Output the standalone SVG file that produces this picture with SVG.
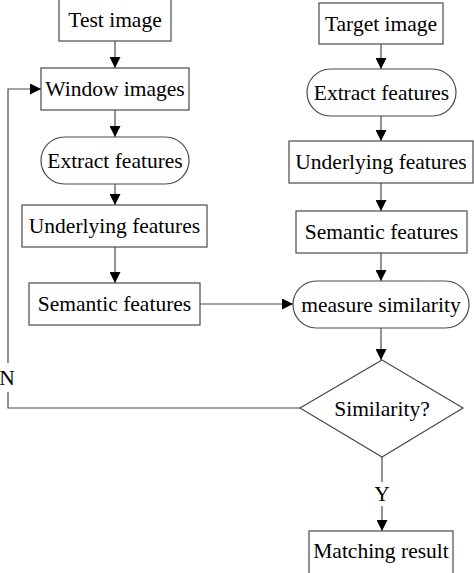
<svg xmlns="http://www.w3.org/2000/svg" width="474" height="573" viewBox="0 0 474 573">
<style>
.box{fill:#fff;stroke:#4a4a4a;stroke-width:1.2}
.lbl{font-family:"Liberation Serif","Times New Roman",serif;font-size:21.5px;fill:#000;text-anchor:middle}
.ln{fill:none;stroke:#4a4a4a;stroke-width:1.2}
</style>
<defs>
<marker id="ah" markerUnits="userSpaceOnUse" markerWidth="11" markerHeight="11" refX="11" refY="5.5" orient="auto">
<path d="M0,0 L11,5.5 L0,11 z" fill="#000"/>
</marker>
</defs>
<rect width="474" height="573" fill="#fff"/>
<g id="connectors">
<line class="ln" x1="115" y1="41" x2="115" y2="68" marker-end="url(#ah)"/>
<line class="ln" x1="115" y1="110" x2="115" y2="137" marker-end="url(#ah)"/>
<line class="ln" x1="115" y1="184" x2="115" y2="205" marker-end="url(#ah)"/>
<line class="ln" x1="115" y1="247" x2="115" y2="283" marker-end="url(#ah)"/>
<line class="ln" x1="381" y1="44" x2="381" y2="69" marker-end="url(#ah)"/>
<line class="ln" x1="381" y1="116" x2="381" y2="141" marker-end="url(#ah)"/>
<line class="ln" x1="381" y1="183" x2="381" y2="211" marker-end="url(#ah)"/>
<line class="ln" x1="381" y1="253" x2="381" y2="281" marker-end="url(#ah)"/>
<line class="ln" x1="381" y1="328" x2="381" y2="360" marker-end="url(#ah)"/>
<line class="ln" x1="200" y1="304" x2="293" y2="304" marker-end="url(#ah)"/>
<line class="ln" x1="382" y1="457" x2="382" y2="482"/>
<line class="ln" x1="382" y1="506" x2="382" y2="531" marker-end="url(#ah)"/>
<polyline class="ln" points="300,408 8,408 8,392"/>
<polyline class="ln" points="8,363 8,89 41,89" marker-end="url(#ah)"/>
<text class="lbl" x="7" y="385">N</text>
<text class="lbl" x="382" y="501">Y</text>
</g>
<g id="test-image"><rect class="box" x="59" y="-5" width="112" height="46"/><text class="lbl" x="115" y="27">Test image</text></g>
<g id="window-images"><rect class="box" x="41" y="68" width="148" height="42"/><text class="lbl" x="115" y="96">Window images</text></g>
<g id="extract-left"><rect class="box" x="41" y="137" width="148" height="47" rx="23.5"/><text class="lbl" x="115" y="168">Extract features</text></g>
<g id="underlying-left"><rect class="box" x="22" y="205" width="185" height="42"/><text class="lbl" x="114.5" y="233">Underlying features</text></g>
<g id="semantic-left"><rect class="box" x="29" y="283" width="171" height="42"/><text class="lbl" x="114.5" y="311">Semantic features</text></g>
<g id="target-image"><rect class="box" x="319" y="3" width="124" height="41"/><text class="lbl" x="381" y="31">Target image</text></g>
<g id="extract-right"><rect class="box" x="307" y="69" width="149" height="47" rx="23.5"/><text class="lbl" x="381.5" y="100">Extract features</text></g>
<g id="underlying-right"><rect class="box" x="289" y="141" width="184" height="42"/><text class="lbl" x="381" y="169">Underlying features</text></g>
<g id="semantic-right"><rect class="box" x="296" y="211" width="171" height="42"/><text class="lbl" x="381.5" y="239">Semantic features</text></g>
<g id="measure-similarity"><rect class="box" x="293" y="281" width="176" height="47" rx="23.5"/><text class="lbl" x="381" y="312">measure similarity</text></g>
<g id="similarity-decision"><polygon class="box" points="382,360 463,408 382,457 300,408"/><text class="lbl" x="382" y="416">Similarity?</text></g>
<g id="matching-result"><rect class="box" x="309" y="531" width="144" height="50"/><text class="lbl" x="381" y="558">Matching result</text></g>
</svg>
